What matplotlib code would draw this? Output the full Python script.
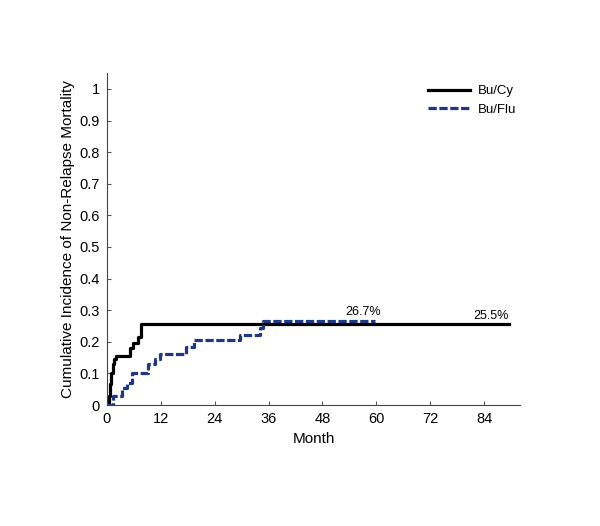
import numpy as np
import matplotlib.pyplot as plt

plt.rcParams['font.family'] = ['Liberation Sans', 'DejaVu Sans']

# Bu/Cy step curve (months, cumulative incidence)
cy_t = [0, 0.5, 0.8, 1.0, 1.3, 1.6, 2.0, 5.2, 5.8, 7.0, 7.7, 89.5]
cy_v = [0, 0.03, 0.065, 0.10, 0.13, 0.145, 0.155, 0.18, 0.195, 0.215, 0.255, 0.255]

# Bu/Flu step curve
flu_t = [0, 0.3, 1.4, 3.3, 4.4, 5.5, 9.1, 10.7, 11.8, 17.7, 19.4, 29.6, 34.2, 34.7, 59.6]
flu_v = [0, 0.0, 0.03, 0.055, 0.07, 0.10, 0.13, 0.145, 0.16, 0.185, 0.205, 0.222, 0.245, 0.267, 0.267]

xticks = [0, 12, 24, 36, 48, 60, 72, 84]
yticks = [0, 0.1, 0.2, 0.3, 0.4, 0.5, 0.6, 0.7, 0.8, 0.9, 1]
ytick_labels = ['0', '0.1', '0.2', '0.3', '0.4', '0.5', '0.6', '0.7', '0.8', '0.9', '1']

fig = plt.figure(figsize=(6, 5.26), dpi=100)
ax = fig.add_axes([0.178, 0.230, 0.689, 0.631])

ax.step(cy_t, cy_v, where='post', color='black', lw=2.3, label='Bu/Cy')
ax.step(flu_t, flu_v, where='post', color='#1f3883', lw=2.3,
        linestyle=(0, (2.6, 0.8)), label='Bu/Flu')

ax.text(57, 0.275, '26.7%', ha='center', va='bottom', fontsize=9)
ax.text(85.5, 0.263, '25.5%', ha='center', va='bottom', fontsize=9)

ax.set_xlim(0, 92)
ax.set_ylim(0, 1.05)
ax.set_xticks(xticks)
ax.set_yticks(yticks)
ax.set_yticklabels(ytick_labels)
ax.tick_params(direction='in', length=3, width=0.8, color='#555555', labelsize=10.5, pad=5)
for s in ['top', 'right']:
    ax.spines[s].set_visible(False)
for s in ['left', 'bottom']:
    ax.spines[s].set_color('#444444')
    ax.spines[s].set_linewidth(0.8)

ax.set_xlabel('Month', fontsize=11, labelpad=4)
ax.set_ylabel('Cumulative Incidence of Non-Relapse Mortality', fontsize=11, labelpad=3)

ax.legend(loc='upper right', bbox_to_anchor=(1.02, 1.0), frameon=False, fontsize=9.5,
          handlelength=3.2, handletextpad=0.6, labelspacing=0.5)

fig.savefig('out.png', dpi=100)
